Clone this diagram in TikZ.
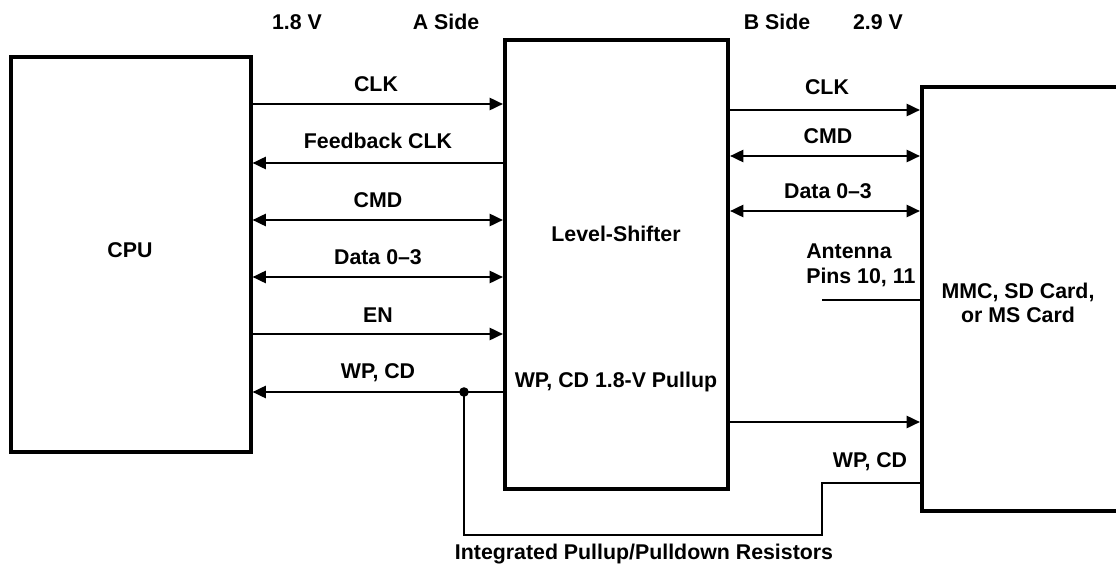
\documentclass[tikz,border=0pt]{standalone}
\usepackage{fontspec}
\setmainfont{Liberation Sans}
\usetikzlibrary{arrows.meta}

\tikzset{
  blk/.style={draw,line width=3pt,inner sep=0pt},
  lbl/.style={inner sep=0.75pt,font=\bfseries\fontsize{16}{18.5}\selectfont},
  sig/.style={line width=1.9pt,-{Triangle[length=10pt,width=9pt]}},
  bus/.style={line width=1.9pt,{Triangle[length=10pt,width=9pt]}-{Triangle[length=10pt,width=9pt]}},
  wire/.style={line width=1.9pt}
}

\begin{document}
\begin{tikzpicture}[x=0.75pt,y=0.75pt,yscale=-1,xscale=1]
\useasboundingbox (0,0) rectangle (1116,564);

%Blocks
\node [blk,minimum width=180pt,minimum height=296.25pt] (cpu) at (130.5,254.5) {};
\node [blk,minimum width=167.25pt,minimum height=336.75pt] (shifter) at (616.5,264.5) {};
\node [blk,minimum width=156pt,minimum height=318pt] (card) at (1026,299) {};

%A side signals
\draw [sig] (cpu.east |- 0,104) -- (shifter.west |- 0,104) ;
\draw [sig] (shifter.west |- 0,163) -- (cpu.east |- 0,163) ;
\draw [bus] (cpu.east |- 0,220) -- (shifter.west |- 0,220) ;
\draw [bus] (cpu.east |- 0,277) -- (shifter.west |- 0,277) ;
\draw [sig] (cpu.east |- 0,334) -- (shifter.west |- 0,334) ;
\draw [sig] (shifter.west |- 0,392) -- (cpu.east |- 0,392) ;

%B side signals
\draw [sig] (shifter.east |- 0,110) -- (card.west |- 0,110) ;
\draw [bus] (shifter.east |- 0,156) -- (card.west |- 0,156) ;
\draw [bus] (shifter.east |- 0,211) -- (card.west |- 0,211) ;
\draw [sig] (shifter.east |- 0,422) -- (card.west |- 0,422) ;

%Antenna stub
\coordinate (ant) at (822,300);
\draw [wire] (ant) -- (card.west |- ant) ;

%WP, CD pullup path
\coordinate (tap) at (464,392);
\coordinate (step) at (822,535);
\draw [wire] (tap) |- (step) |- (card.west |- 0,483) ;
\fill (tap) circle [radius=3.6pt] ;

% Text Node
\node [lbl] (vA) at (297,22) {1.8 V};
% Text Node
\node [lbl] (sideA) at (446,22) {A Side};
% Text Node
\node [lbl] (sideB) at (777,22) {B Side};
% Text Node
\node [lbl] (vB) at (878,22) {2.9 V};
% Text Node
\node [lbl] (cpuT) at (130,250) {CPU};
% Text Node
\node [lbl] (shifterT) at (616,234) {Level-Shifter};
% Text Node
\node [lbl] (pullT) at (616,382) {WP, CD 1.8-V Pullup};
% Text Node
\node [lbl,align=center] (cardT) at (1018,303) {MMC, SD Card,\\or MS Card};
% Text Node
\node [lbl] (clkA) at (376,84) {CLK};
% Text Node
\node [lbl] (fbA) at (378,141) {Feedback CLK};
% Text Node
\node [lbl] (cmdA) at (378,200) {CMD};
% Text Node
\node [lbl] (dataA) at (378,257) {Data 0--3};
% Text Node
\node [lbl] (enA) at (378,315) {EN};
% Text Node
\node [lbl] (wpA) at (378,373) {WP, CD};
% Text Node
\node [lbl] (clkB) at (827,87) {CLK};
% Text Node
\node [lbl] (cmdB) at (828,136) {CMD};
% Text Node
\node [lbl] (dataB) at (828,191) {Data 0--3};
% Text Node
\node [lbl,align=left,anchor=west] (antT) at (805,265) {Antenna\\Pins 10, 11};
% Text Node
\node [lbl] (wpB) at (870,462) {WP, CD};
% Text Node
\node [lbl] (resT) at (644,554) {Integrated Pullup/Pulldown Resistors};

\end{tikzpicture}
\end{document}
